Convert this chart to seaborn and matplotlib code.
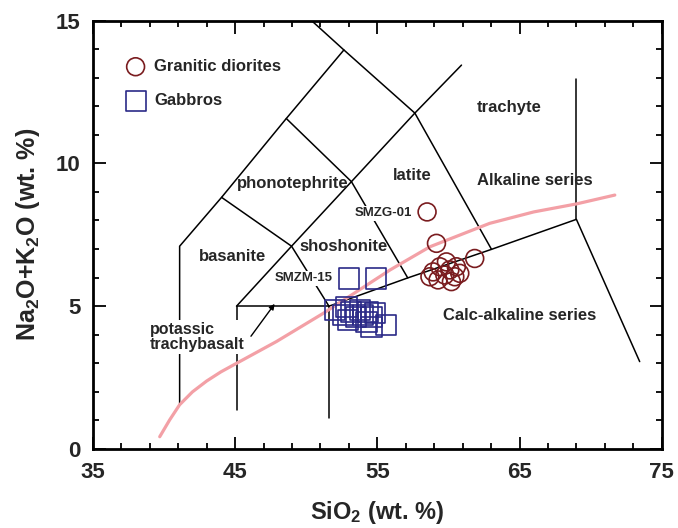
import matplotlib
matplotlib.use("Agg")
import matplotlib.pyplot as plt
from matplotlib.ticker import MultipleLocator
import seaborn as sns
import pandas as pd

# sample data
sio2_granitic = [58.5, 59.16, 61.85, 58.92, 59.86, 60.56, 60.21, 59.27, 60.8, 59.75, 60.1, 59.4, 58.7, 60.45]
alk_granitic = [8.3, 7.2, 6.67, 6.2, 6.55, 6.38, 5.86, 5.92, 6.15, 6.09, 6.27, 6.38, 6.03, 6.03]

sio2_gabbro = [53.01, 54.9, 52.01, 52.83, 53.18, 52.95, 53.77, 54.35, 54.59, 54.24, 54.59, 55.64, 53.53, 52.6, 54.0, 54.82]
alk_gabbro = [5.97, 5.97, 4.87, 4.98, 4.81, 4.52, 4.87, 4.81, 4.63, 4.46, 4.28, 4.34, 4.63, 4.69, 4.69, 4.75]

# alkaline / sub-alkaline dividing curve
divide_x = [39.7, 40.4, 41.1, 42.0, 43.0, 44.0, 45.1, 47.9, 51.2, 55.9, 58.7, 60.8, 62.9, 66.0, 69.0, 71.7]
divide_y = [0.43, 1.02, 1.55, 2.0, 2.38, 2.7, 3.0, 3.76, 4.75, 6.27, 7.08, 7.49, 7.9, 8.3, 8.58, 8.89]

# field boundaries (polylines)
boundaries = [
    [(41.1, 1.55), (41.1, 7.1), (44.05, 8.81), (48.6, 11.57), (52.65, 13.97)],
    [(50.37, 15.0), (52.65, 13.97), (57.64, 11.76), (63.03, 6.99)],
    [(45.1, 1.37), (45.1, 5.0), (51.6, 5.0), (51.6, 1.08)],
    [(45.1, 5.0), (48.97, 7.1), (53.18, 9.36), (57.64, 11.76), (60.92, 13.44)],
    [(44.05, 8.81), (48.97, 7.1), (51.6, 5.0)],
    [(48.6, 11.57), (53.18, 9.36), (57.14, 5.99)],
    [(51.6, 5.0), (57.14, 5.99), (63.03, 6.99), (69.0, 8.04), (73.45, 3.06)],
    [(69.0, 8.04), (69.0, 12.95)],
]

field_labels = ["trachyte", "latite", "phonotephrite", "shoshonite", "basanite"]
field_x = [64.3, 57.43, 49.08, 52.65, 44.8]
field_y = [11.97, 9.56, 9.28, 7.08, 6.75]

series_labels = ["Alkaline series", "Calc-alkaline series"]
series_x = [66.1, 65.0]
series_y = [9.41, 4.66]

sample_labels = ["SMZG-01", "SMZM-15"]
sample_x = [55.4, 49.8]
sample_y = [8.25, 5.97]

x_ticks = [35, 45, 55, 65, 75]
y_ticks = [0, 5, 10, 15]

sns.set_style("ticks")
plt.rcParams["font.family"] = ["Liberation Sans", "DejaVu Sans"]
plt.rcParams["font.weight"] = "bold"
plt.rcParams["mathtext.fontset"] = "custom"
plt.rcParams["mathtext.rm"] = "Liberation Sans:bold"
plt.rcParams["mathtext.bf"] = "Liberation Sans:bold"
plt.rcParams["mathtext.default"] = "bf"

fig = plt.figure(figsize=(6.78, 5.28), dpi=100)
ax = fig.add_axes([0.137, 0.1496, 0.839, 0.8115])

for line in boundaries:
    xs, ys = zip(*line)
    ax.plot(xs, ys, color="black", lw=1.1, zorder=2)

div = pd.DataFrame({"x": divide_x, "y": divide_y})
sns.lineplot(data=div, x="x", y="y", sort=False, color="#f3a0a6", lw=2.3, ax=ax, zorder=3)

gran = pd.DataFrame({"x": sio2_granitic, "y": alk_granitic})
gab = pd.DataFrame({"x": sio2_gabbro, "y": alk_gabbro})
sns.scatterplot(data=gran, x="x", y="y", marker="o", s=165, facecolor="none",
                edgecolor="#7a1c1f", linewidth=1.2, ax=ax, zorder=4, label="Granitic diorites")
sns.scatterplot(data=gab, x="x", y="y", marker="s", s=210, facecolor="none",
                edgecolor="#2b2a88", linewidth=1.2, ax=ax, zorder=4, label="Gabbros")

for t, x, y in zip(field_labels, field_x, field_y):
    ax.text(x, y, t, fontsize=12, fontweight="bold", ha="center", va="center", zorder=5)
for t, x, y in zip(series_labels, series_x, series_y):
    ax.text(x, y, t, fontsize=12, fontweight="bold", ha="center", va="center", zorder=5)
for t, x, y in zip(sample_labels, sample_x, sample_y):
    ax.text(x, y, t, fontsize=9.5, fontweight="bold", ha="center", va="center", zorder=5,
            bbox=dict(facecolor="white", edgecolor="none", pad=1))
ax.text(39.0, 3.92, "potassic\ntrachybasalt", fontsize=11.5, fontweight="bold", ha="left",
        va="center", linespacing=1.05, zorder=5,
        bbox=dict(facecolor="white", edgecolor="none", pad=1))
ax.annotate("", xy=(47.9, 5.16), xytext=(46.0, 3.87),
            arrowprops=dict(arrowstyle="-|>", lw=1.0, color="black", mutation_scale=8), zorder=5)

ax.set_xlim(35, 75)
ax.set_ylim(0, 15)
ax.set_xticks(x_ticks)
ax.set_yticks(y_ticks)
ax.xaxis.set_minor_locator(MultipleLocator(2, offset=1))
ax.yaxis.set_minor_locator(MultipleLocator(1))
ax.tick_params(which="both", direction="in", top=True, right=True, width=1.3, color="black")
ax.tick_params(which="major", length=9)
ax.tick_params(which="minor", length=4.5)
ax.tick_params(axis="x", pad=9)
ax.tick_params(axis="y", pad=9)
for lab in ax.get_xticklabels() + ax.get_yticklabels():
    lab.set_fontsize(16)
    lab.set_fontweight("bold")
for sp in ax.spines.values():
    sp.set_linewidth(2.0)
    sp.set_color("black")

ax.set_xlabel("SiO$_2$ (wt. %)", fontsize=17, fontweight="bold", labelpad=12)
ax.set_ylabel("Na$_2$O+K$_2$O (wt. %)", fontsize=18, fontweight="bold", labelpad=10)

ax.legend(loc="upper left", bbox_to_anchor=(0.0575, 0.91), frameon=False, borderaxespad=0,
          borderpad=0, handlelength=1.2, handletextpad=0.5, labelspacing=1.15,
          prop={"size": 12, "weight": "bold"})

fig.savefig("out.png", dpi=100)
